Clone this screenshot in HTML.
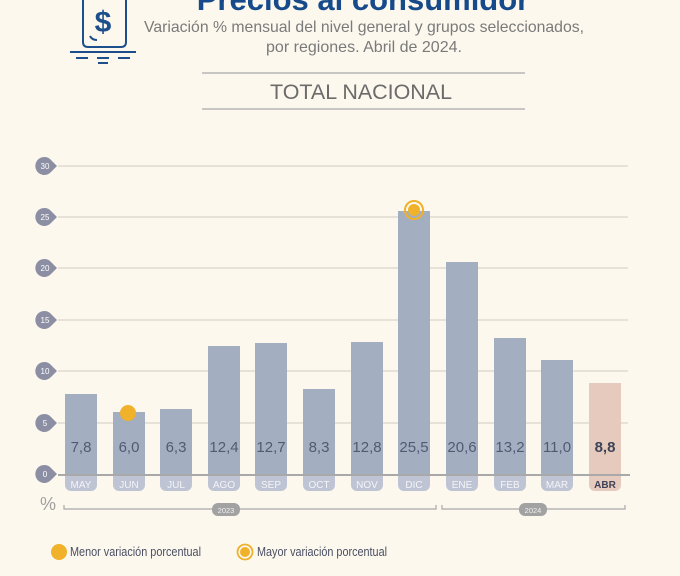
<!DOCTYPE html>
<html><head><meta charset="utf-8"><style>
html,body{margin:0;padding:0;background:#fcf8ee;}
svg{display:block;font-family:"Liberation Sans",sans-serif;}
</style></head><body>
<svg width="680" height="576" viewBox="0 0 680 576" xmlns="http://www.w3.org/2000/svg">
<rect width="680" height="576" fill="#fcf8ee"/>
<text x="363" y="10" text-anchor="middle" font-size="31" font-weight="bold" fill="#164a8a">Precios al consumidor</text>
<!-- icon -->
<g stroke="#1d4f8c" fill="none" stroke-width="2">
<path d="M83 0 V42 Q83 47 88 47 H121 Q126 47 126 42 V0"/>
<line x1="70" y1="52" x2="136" y2="52"/><line x1="76" y1="58" x2="88" y2="58"/><line x1="97" y1="58" x2="109" y2="58"/><line x1="118" y1="58" x2="130" y2="58"/><line x1="98" y1="63" x2="108" y2="63"/>
<path d="M90 36 Q92 40 97 40"/>
</g>
<text x="103" y="32" text-anchor="middle" font-size="30" font-weight="bold" fill="#1d4f8c">$</text>
<text x="364" y="32" text-anchor="middle" font-size="16" fill="#7a7a7a" textLength="440" lengthAdjust="spacingAndGlyphs">Variación % mensual del nivel general y grupos seleccionados,</text>
<text x="364" y="52" text-anchor="middle" font-size="16" fill="#7a7a7a" textLength="196" lengthAdjust="spacingAndGlyphs">por regiones. Abril de 2024.</text>
<line x1="202" y1="73" x2="525" y2="73" stroke="#a8a8a8" stroke-width="1.2"/>
<line x1="202" y1="109" x2="525" y2="109" stroke="#a8a8a8" stroke-width="1.2"/>
<text x="361" y="99" text-anchor="middle" font-size="21" fill="#6b6b6b" textLength="182" lengthAdjust="spacingAndGlyphs">TOTAL NACIONAL</text>
<!-- grid -->
<g stroke="#d8d5cc" stroke-width="1.3">
<line x1="58" y1="166" x2="628" y2="166"/><line x1="58" y1="217" x2="628" y2="217"/><line x1="58" y1="268" x2="628" y2="268"/><line x1="58" y1="320" x2="628" y2="320"/><line x1="58" y1="371" x2="628" y2="371"/><line x1="58" y1="423" x2="628" y2="423"/>
</g>
<g fill="#8c8fa3">
<path d="M45 157 a9 9 0 1 0 6 15 l6 -6 l-6 -6 a9 9 0 0 0 -6 -3z"/>
<path d="M45 208 a9 9 0 1 0 6 15 l6 -6 l-6 -6 a9 9 0 0 0 -6 -3z"/>
<path d="M45 259 a9 9 0 1 0 6 15 l6 -6 l-6 -6 a9 9 0 0 0 -6 -3z"/>
<path d="M45 311 a9 9 0 1 0 6 15 l6 -6 l-6 -6 a9 9 0 0 0 -6 -3z"/>
<path d="M45 362 a9 9 0 1 0 6 15 l6 -6 l-6 -6 a9 9 0 0 0 -6 -3z"/>
<path d="M45 414 a9 9 0 1 0 6 15 l6 -6 l-6 -6 a9 9 0 0 0 -6 -3z"/>
<path d="M45 465 a9 9 0 1 0 6 15 l6 -6 l-6 -6 a9 9 0 0 0 -6 -3z"/>
</g>
<g fill="#fff" font-size="8" text-anchor="middle">
<text x="45" y="169">30</text><text x="45" y="220">25</text><text x="45" y="271">20</text><text x="45" y="323">15</text><text x="45" y="374">10</text><text x="45" y="426">5</text><text x="45" y="477">0</text>
</g>
<!-- bars -->
<g fill="#a3afc1">
<rect x="65" y="394" width="32" height="80"/>
<rect x="113" y="412" width="32" height="62"/>
<rect x="160" y="409" width="32" height="65"/>
<rect x="208" y="346" width="32" height="128"/>
<rect x="255" y="343" width="32" height="131"/>
<rect x="303" y="389" width="32" height="85"/>
<rect x="351" y="342" width="32" height="132"/>
<rect x="398" y="211" width="32" height="263"/>
<rect x="446" y="262" width="32" height="212"/>
<rect x="494" y="338" width="32" height="136"/>
<rect x="541" y="360" width="32" height="114"/>
</g>
<rect x="589" y="383" width="32" height="91" fill="#e6cabd"/>
<line x1="58" y1="475" x2="630" y2="475" stroke="#a9a9a9" stroke-width="2"/>
<g font-size="15" fill="#525a72" text-anchor="middle">
<text x="81" y="452">7,8</text><text x="129" y="452">6,0</text><text x="176" y="452">6,3</text><text x="224" y="452">12,4</text><text x="271" y="452">12,7</text><text x="319" y="452">8,3</text><text x="367" y="452">12,8</text><text x="414" y="452">25,5</text><text x="462" y="452">20,6</text><text x="510" y="452">13,2</text><text x="557" y="452">11,0</text><text x="605" y="452" font-weight="bold" fill="#3e4258">8,8</text>
</g>
<!-- month pills -->
<g fill="#bec4d3">
<path d="M65 476 h32 v9 a6 6 0 0 1 -6 6 h-20 a6 6 0 0 1 -6 -6z"/>
<path d="M113 476 h32 v9 a6 6 0 0 1 -6 6 h-20 a6 6 0 0 1 -6 -6z"/>
<path d="M160 476 h32 v9 a6 6 0 0 1 -6 6 h-20 a6 6 0 0 1 -6 -6z"/>
<path d="M208 476 h32 v9 a6 6 0 0 1 -6 6 h-20 a6 6 0 0 1 -6 -6z"/>
<path d="M255 476 h32 v9 a6 6 0 0 1 -6 6 h-20 a6 6 0 0 1 -6 -6z"/>
<path d="M303 476 h32 v9 a6 6 0 0 1 -6 6 h-20 a6 6 0 0 1 -6 -6z"/>
<path d="M351 476 h32 v9 a6 6 0 0 1 -6 6 h-20 a6 6 0 0 1 -6 -6z"/>
<path d="M398 476 h32 v9 a6 6 0 0 1 -6 6 h-20 a6 6 0 0 1 -6 -6z"/>
<path d="M446 476 h32 v9 a6 6 0 0 1 -6 6 h-20 a6 6 0 0 1 -6 -6z"/>
<path d="M494 476 h32 v9 a6 6 0 0 1 -6 6 h-20 a6 6 0 0 1 -6 -6z"/>
<path d="M541 476 h32 v9 a6 6 0 0 1 -6 6 h-20 a6 6 0 0 1 -6 -6z"/>
<path d="M589 476 h32 v9 a6 6 0 0 1 -6 6 h-20 a6 6 0 0 1 -6 -6z" fill="#e6cabd"/>
</g>
<g font-size="10" fill="#f4f4f8" text-anchor="middle">
<text x="81" y="488">MAY</text><text x="129" y="488">JUN</text><text x="176" y="488">JUL</text><text x="224" y="488">AGO</text><text x="271" y="488">SEP</text><text x="319" y="488">OCT</text><text x="367" y="488">NOV</text><text x="414" y="488">DIC</text><text x="462" y="488">ENE</text><text x="510" y="488">FEB</text><text x="557" y="488">MAR</text><text x="605" y="488" font-weight="bold" fill="#3e4258">ABR</text>
</g>
<!-- year brackets -->
<text x="40" y="510" font-size="18" fill="#a0a0a0">%</text>
<g stroke="#a9a9a9" stroke-width="1.2" fill="none">
<path d="M64 505 v4 H436 v-4"/>
<path d="M442 505 v4 H625 v-4"/>
</g>
<rect x="212" y="503" width="28" height="13" rx="6" fill="#a2a2a2"/>
<rect x="519" y="503" width="28" height="13" rx="6" fill="#a2a2a2"/>
<text x="226" y="513" font-size="7.5" fill="#f0f0f0" text-anchor="middle">2023</text>
<text x="533" y="513" font-size="7.5" fill="#f0f0f0" text-anchor="middle">2024</text>
<!-- markers -->
<circle cx="128" cy="413" r="8" fill="#f0b12b"/>
<circle cx="414" cy="210" r="9" fill="none" stroke="#f0b12b" stroke-width="2"/>
<circle cx="414" cy="210" r="6" fill="#f0b12b"/>
<!-- legend -->
<circle cx="59" cy="552" r="8" fill="#f0b12b"/>
<text x="70" y="556" font-size="12.5" fill="#4a4f63" textLength="131" lengthAdjust="spacingAndGlyphs">Menor variación porcentual</text>
<circle cx="245" cy="552" r="7.5" fill="none" stroke="#f0b12b" stroke-width="1.8"/>
<circle cx="245" cy="552" r="5" fill="#f0b12b"/>
<text x="257" y="556" font-size="12.5" fill="#4a4f63" textLength="130" lengthAdjust="spacingAndGlyphs">Mayor variación porcentual</text>
</svg>
</body></html>
